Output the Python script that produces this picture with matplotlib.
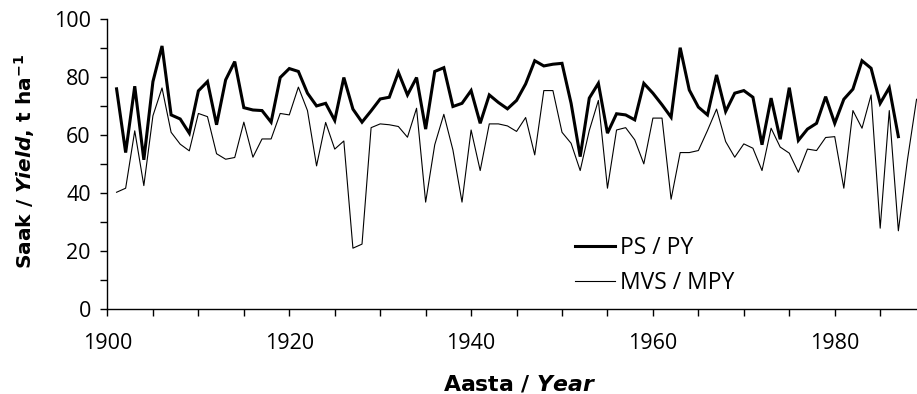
import numpy as np
import matplotlib
matplotlib.use("Agg")
import matplotlib.pyplot as plt
from matplotlib.ticker import MultipleLocator

plt.rcParams["font.family"] = ["Open Sans", "DejaVu Sans"]
plt.rcParams["mathtext.fontset"] = "custom"
plt.rcParams["mathtext.rm"] = "DejaVu Sans:bold"
plt.rcParams["mathtext.it"] = "DejaVu Sans:bold:italic"
plt.rcParams["mathtext.bf"] = "DejaVu Sans:bold"

# --- data ---
years_ps = np.arange(1901, 1988)
ps_py = [
    76.0, 54.0, 76.9, 51.5, 78.5, 90.8, 67.0, 65.6, 60.7, 75.3,
    78.5, 63.6, 79.1, 85.4, 69.5, 68.7, 68.5, 64.5, 79.9, 83.0,
    82.0, 74.5, 70.1, 71.0, 65.1, 79.9, 69.0, 64.5, 68.4, 72.5,
    73.1, 81.7, 73.9, 79.9, 62.1, 82.0, 83.3, 69.9, 71.0, 75.4,
    64.1, 73.9, 71.3, 69.1, 72.0, 77.7, 85.7, 83.9, 84.5, 84.8,
    71.0, 52.6, 72.8, 77.9, 60.7, 67.4, 67.0, 65.3, 77.9, 74.5,
    70.5, 66.2, 90.2, 75.6, 69.7, 67.0, 80.8, 68.2, 74.5, 75.4,
    73.1, 56.7, 72.8, 58.6, 76.4, 58.2, 62.1, 64.1, 73.3, 64.1,
    72.4, 75.9, 85.7, 83.1, 71.0, 76.4, 59.5,
]

years_mvs = np.arange(1901, 1990)
mvs_mpy = [
    40.3, 41.7, 61.5, 42.6, 66.7, 76.3, 61.0, 56.9, 54.6, 67.5,
    66.4, 53.6, 51.7, 52.3, 64.5, 52.4, 58.7, 58.7, 67.5, 67.0,
    76.6, 68.5, 49.4, 64.4, 55.2, 58.0, 21.0, 22.4, 62.6, 63.9,
    63.6, 63.0, 59.3, 69.3, 36.9, 56.7, 67.2, 54.9, 36.9, 61.8,
    47.8, 63.9, 63.9, 63.2, 61.3, 66.1, 53.2, 75.4, 75.4, 61.0,
    57.2, 47.8, 61.6, 72.0, 41.7, 61.8, 62.6, 58.4, 50.1, 65.9,
    65.9, 37.9, 54.0, 54.0, 54.7, 61.6, 69.0, 57.8, 52.4, 57.0,
    55.5, 47.8, 62.4, 55.9, 53.8, 47.2, 55.2, 54.7, 59.2, 59.5,
    41.7, 68.5, 62.4, 73.9, 27.9, 68.5, 27.0, 51.5, 72.4,
]

fig = plt.figure(figsize=(9.17, 3.94), dpi=100)
ax = fig.add_axes([0.1172, 0.2157, 0.8828, 0.7353])

ax.plot(years_ps, ps_py, color="black", lw=2.2, label="PS / PY",
        solid_joinstyle="miter")
ax.plot(years_mvs, mvs_mpy, color="black", lw=0.8, label="MVS / MPY")

ax.set_xlim(1900, 1989.05)
ax.set_ylim(0, 100)

ax.spines["top"].set_visible(False)
ax.spines["right"].set_visible(False)
for s in ("left", "bottom"):
    ax.spines[s].set_linewidth(1.0)

ax.xaxis.set_major_locator(MultipleLocator(20))
ax.xaxis.set_minor_locator(MultipleLocator(5))
ax.yaxis.set_major_locator(MultipleLocator(20))
ax.yaxis.set_minor_locator(MultipleLocator(10))

ax.tick_params(axis="both", which="both", direction="out", length=5, width=1,
               labelsize=15.5)
ax.tick_params(axis="x", which="major", pad=12.5)
ax.tick_params(axis="y", which="major", pad=7)

ax.set_xlabel(r"Aasta / $\mathit{Year}$", family="DejaVu Sans", fontsize=15.8,
              fontweight="bold")
ax.xaxis.set_label_coords(0.5096, -0.222)
ax.set_ylabel(r"Saak / $\mathit{Yield}$, t ha$^{-1}$", family="DejaVu Sans",
              fontsize=14.5, fontweight="bold")
ax.yaxis.set_label_coords(-0.087, 0.509)

leg = ax.legend(loc="upper left", bbox_to_anchor=(0.5775, 0.252), frameon=False,
                prop={"family": "Open Sans", "size": 16.5},
                handlelength=1.75, handletextpad=0.22,
                labelspacing=0.48, borderpad=0, borderaxespad=0)

fig.savefig("out.png", dpi=100)
